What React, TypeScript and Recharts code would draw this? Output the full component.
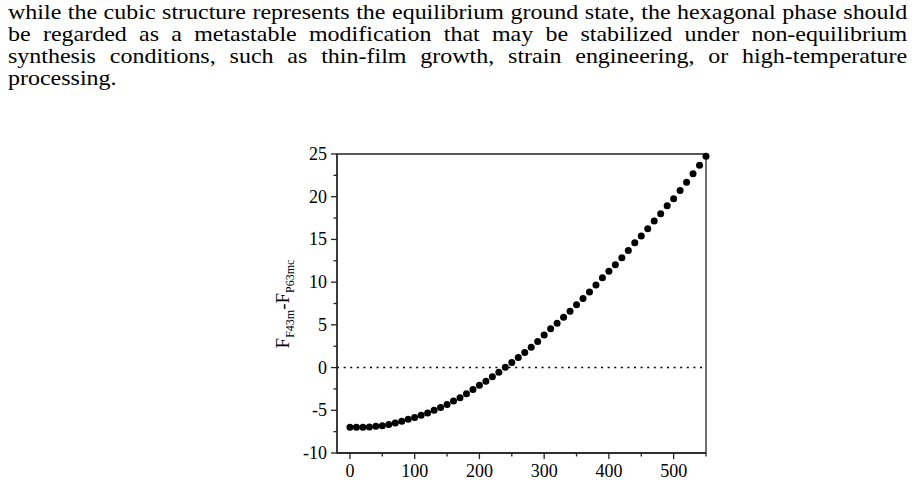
import { ScatterChart, Scatter, XAxis, YAxis, ReferenceLine, ReferenceArea } from "recharts";

// temperature grid and free energy difference F(F-43m) - F(P63mc)
const temps = [
  0, 10, 20, 30, 40, 50, 60, 70, 80, 90, 100, 110, 120, 130, 140, 150, 160, 170,
  180, 190, 200, 210, 220, 230, 240, 250, 260, 270, 280, 290, 300, 310, 320, 330,
  340, 350, 360, 370, 380, 390, 400, 410, 420, 430, 440, 450, 460, 470, 480, 490,
  500, 510, 520, 530, 540, 550,
];
const energyDiff = [
  -7.0, -6.99, -6.98, -6.95, -6.88, -6.8, -6.66, -6.48, -6.28, -6.06, -5.84, -5.57,
  -5.31, -5.0, -4.67, -4.32, -3.91, -3.52, -3.05, -2.58, -2.07, -1.6, -1.06, -0.55,
  0.04, 0.59, 1.17, 1.76, 2.38, 3.05, 3.8, 4.53, 5.2, 5.9, 6.6, 7.34, 8.08, 8.85,
  9.68, 10.5, 11.28, 12.05, 12.85, 13.71, 14.61, 15.39, 16.25, 17.15, 18.0, 18.94,
  19.77, 20.74, 21.68, 22.7, 23.67, 24.73,
];
const xTicks = [0, 50, 100, 150, 200, 250, 300, 350, 400, 450, 500, 550];
const yTicks = [-10, -7.5, -5, -2.5, 0, 2.5, 5, 7.5, 10, 12.5, 15, 17.5, 20, 22.5, 25];

const paragraph =
  "while the cubic structure represents the equilibrium ground state, the hexagonal phase should be regarded as a metastable modification that may be stabilized under non-equilibrium synthesis conditions, such as thin-film growth, strain engineering, or high-temperature processing.";

const serif = "'Liberation Serif', 'Times New Roman', serif";
const axisColor = "#222";

const data = temps.map((t, i) => ({ t, f: energyDiff[i] }));

const XTick = (props: any) => {
  const { x, y, payload } = props;
  const major = payload.value % 100 === 0;
  return (
    <g>
      <line x1={x} x2={x} y1={y} y2={y + (major ? 6 : 3.5)} stroke={axisColor} strokeWidth={1.3} />
      {major && (
        <text x={x} y={y + 24} textAnchor="middle" style={{ fontFamily: serif, fontSize: 18 }} fill="#000">
          {payload.value}
        </text>
      )}
    </g>
  );
};

const YTick = (props: any) => {
  const { x, y, payload } = props;
  const major = payload.value % 5 === 0;
  return (
    <g>
      <line x1={x} x2={x - (major ? 6 : 3.5)} y1={y} y2={y} stroke={axisColor} strokeWidth={1.3} />
      {major && (
        <text x={x - 10} y={y + 6} textAnchor="end" style={{ fontFamily: serif, fontSize: 18 }} fill="#000">
          {payload.value}
        </text>
      )}
    </g>
  );
};

const YLabel = () => (
  <text transform="translate(49,164) rotate(-90)" textAnchor="middle" style={{ fontFamily: serif, fontSize: 19 }} fill="#000">
    F
    <tspan fontSize={12} dy={5}>F43m</tspan>
    <tspan dy={-5}>-F</tspan>
    <tspan fontSize={12} dy={5}>P63mc</tspan>
  </text>
);

const Dot = (props: any) => <circle cx={props.cx} cy={props.cy} r={3.5} fill="#000" />;

export default function App() {
  return (
    <div style={{ position: "absolute", left: 0, top: 0, width: 916, height: 485, overflow: "hidden", background: "#fff" }}>
      {/* body text set a little wide, as in the typeset page */}
      <div
        style={{
          position: "absolute",
          left: 8,
          top: 1,
          width: 825,
          fontFamily: serif,
          fontSize: 22,
          lineHeight: "22px",
          textAlign: "justify",
          color: "#000",
          transform: "scaleX(1.09)",
          transformOrigin: "0 0",
        }}
      >
        {paragraph}
      </div>
      <div style={{ position: "absolute", left: 240, top: 140 }}>
        <ScatterChart width={480} height={345} margin={{ top: 14, right: 14, bottom: 0, left: 0 }}>
          <XAxis
            type="number"
            dataKey="t"
            domain={[-20, 550]}
            ticks={xTicks}
            interval={0}
            height={32}
            tickSize={0}
            tickMargin={0}
            tickLine={false}
            axisLine={{ stroke: axisColor, strokeWidth: 1.3 }}
            tick={<XTick />}
          />
          <YAxis
            type="number"
            dataKey="f"
            domain={[-10, 25]}
            ticks={yTicks}
            interval={0}
            width={97}
            tickSize={0}
            tickMargin={0}
            tickLine={false}
            axisLine={{ stroke: axisColor, strokeWidth: 1.3 }}
            tick={<YTick />}
            label={<YLabel />}
          />
          <ReferenceArea x1={-20} x2={550} y1={-10} y2={25} fill="none" stroke={axisColor} strokeWidth={1.3} />
          <ReferenceLine y={0} stroke="#000" strokeWidth={1.5} strokeDasharray="2 4.6" />
          <Scatter data={data} shape={<Dot />} isAnimationActive={false} />
        </ScatterChart>
      </div>
    </div>
  );
}
